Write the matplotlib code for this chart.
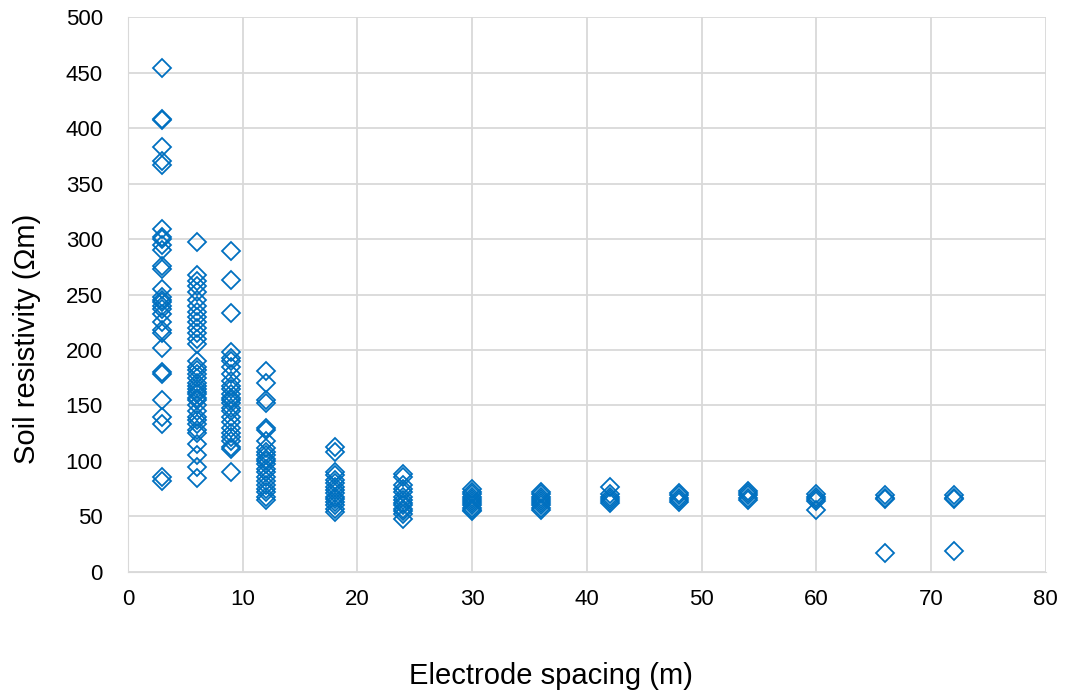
import matplotlib
matplotlib.use("Agg")
import matplotlib.pyplot as plt

plt.rcParams['font.family'] = ['Liberation Sans', 'DejaVu Sans']

spacing = [3, 6, 9, 12, 18, 24, 30, 36, 42, 48, 54, 60, 66, 72]
resistivity = {
    3: [454, 408, 407, 383, 370, 367, 309, 302, 300, 295, 290, 276, 273, 255, 248, 245,
        243, 240, 237, 232, 225, 218, 215, 202, 180, 178, 155, 140, 133, 86, 82],
    6: [297, 268, 262, 258, 252, 245, 240, 234, 230, 225, 220, 215, 210, 205, 190, 185,
        182, 178, 175, 170, 168, 165, 162, 160, 157, 155, 150, 145, 140, 137, 133, 128,
        125, 115, 105, 95, 85],
    9: [289, 263, 233, 198, 193, 190, 185, 178, 172, 168, 165, 160, 157, 155, 152, 148,
        145, 140, 135, 130, 125, 122, 118, 113, 111, 90],
    12: [181, 170, 155, 152, 130, 128, 118, 112, 108, 105, 102, 100, 97, 93, 90, 86, 82,
         78, 75, 72, 68, 65],
    18: [113, 108, 90, 87, 83, 80, 77, 74, 71, 68, 66, 63, 60, 57, 54],
    24: [88, 86, 78, 75, 72, 68, 65, 62, 60, 57, 55, 52, 48],
    30: [75, 72, 70, 68, 66, 64, 62, 60, 58, 56, 55],
    36: [72, 70, 68, 66, 64, 62, 60, 58, 56],
    42: [77, 70, 68, 66, 64, 62],
    48: [71, 69, 67, 65, 63],
    54: [73, 71, 69, 67, 65],
    60: [70, 68, 66, 64, 56],
    66: [69, 67, 66, 17],
    72: [69, 67, 66, 19],
}
x_ticks = [0, 10, 20, 30, 40, 50, 60, 70, 80]
y_ticks = [0, 50, 100, 150, 200, 250, 300, 350, 400, 450, 500]

xs, ys = [], []
for s in spacing:
    for v in resistivity[s]:
        xs.append(s)
        ys.append(v)

fig = plt.figure(figsize=(10.71, 6.95), dpi=100)
ax = fig.add_axes([0.1195, 0.177, 0.857, 0.7985])
ax.plot(xs, ys, linestyle='none', marker='D', markersize=8.8,
        markerfacecolor='none', markeredgecolor='#0070C0', markeredgewidth=1.3,
        clip_on=False, zorder=3)

ax.set_xlim(0, 80)
ax.set_ylim(0, 500)
ax.set_xticks(x_ticks)
ax.set_yticks(y_ticks)
ax.grid(True, color='#D9D9D9', linewidth=1.3)
ax.set_axisbelow(True)
for sp in ax.spines.values():
    sp.set_visible(False)
ax.spines['left'].set_visible(True)
ax.spines['left'].set_color('#D9D9D9')
ax.spines['bottom'].set_visible(True)
ax.spines['bottom'].set_color('#D9D9D9')
ax.tick_params(length=0, labelsize=16, colors='#000000')
ax.tick_params(axis='x', pad=12)
ax.tick_params(axis='y', pad=18)
ax.set_xlabel('Electrode spacing (m)', fontsize=21, labelpad=38)
ax.set_ylabel('Soil resistivity (\u03a9m)', fontsize=21, labelpad=18)
ax.xaxis.set_label_coords(0.461, -0.163)
ax.yaxis.label.set_y(0.42)

fig.savefig('out.png', dpi=100)
